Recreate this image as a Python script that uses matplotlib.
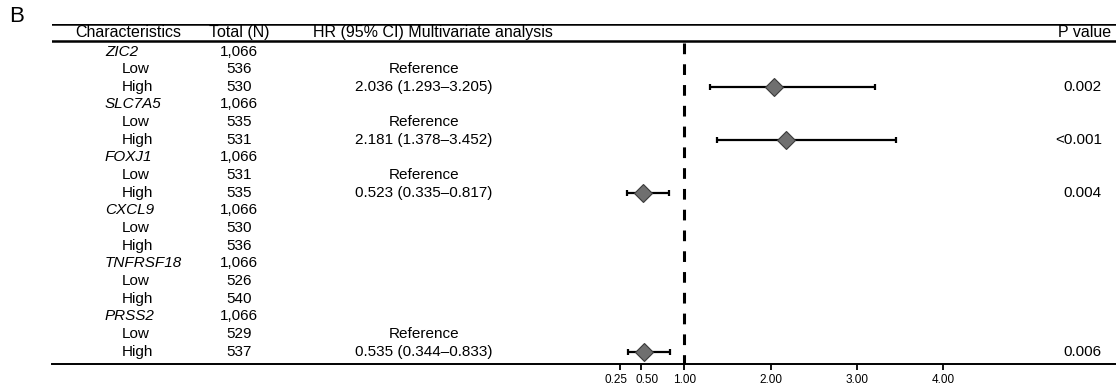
import matplotlib
matplotlib.use("Agg")
import matplotlib.pyplot as plt
import matplotlib.transforms as mtransforms

plt.rcParams['font.family'] = ['Liberation Sans', 'DejaVu Sans']

# data
genes = ["ZIC2", "SLC7A5", "FOXJ1", "CXCL9", "TNFRSF18", "PRSS2"]
total_n = ["1,066", "1,066", "1,066", "1,066", "1,066", "1,066"]
n_low = [536, 535, 531, 530, 526, 529]
n_high = [530, 531, 535, 536, 540, 537]
hr = [2.036, 2.181, 0.523, None, None, 0.535]
ci_low = [1.293, 1.378, 0.335, None, None, 0.344]
ci_high = [3.205, 3.452, 0.817, None, None, 0.833]
p_values = ["0.002", "<0.001", "0.004", "", "", "0.006"]
xticks = [0.25, 0.50, 1.00, 2.00, 3.00, 4.00]

W, H = 1116, 390
fig = plt.figure(figsize=(W / 100, H / 100), dpi=100)

# table frame: left edge 52px, lines at 23.5px and 364px
y_top, y_bot = 23.5, 364.0
ax = fig.add_axes([52 / W, 1 - y_bot / H, 1 - 52 / W, (y_bot - y_top) / H])

# HR scale: 0 at 598.3px, 86.2 px per unit
x0, ppu = 598.3, 86.2
ax.set_xlim((52 - x0) / ppu, (W - x0) / ppu)
# rows: first row at 51.5px, 17.66px apart
r0, rstep = 51.5, 17.66
ax.set_ylim((y_bot - r0) / rstep, (y_top - r0) / rstep)

def row_y(px):
    return (px - r0) / rstep

tr = mtransforms.blended_transform_factory(ax.transAxes, ax.transData)
fs = 11
fs_head = 11.5

# header
ax.axhline(row_y(y_top), color='black', lw=1.8)
ax.axhline(row_y(41), color='black', lw=1.8)
hy = row_y(32.5)
ax.text(0.0719, hy, "Characteristics", transform=tr, ha='center', va='center', fontsize=fs_head)
ax.text(0.1758, hy, "Total (N)", transform=tr, ha='center', va='center', fontsize=fs_head)
ax.text(0.3576, hy, "HR (95% CI) Multivariate analysis", transform=tr, ha='center', va='center', fontsize=fs_head)
ax.text(0.9953, hy, "P value", transform=tr, ha='right', va='center', fontsize=fs_head)

row = 0
for i, g in enumerate(genes):
    ax.text(0.0498, row, g, transform=tr, ha='left', va='center', fontsize=fs, style='italic')
    ax.text(0.1758, row, total_n[i], transform=tr, ha='center', va='center', fontsize=fs)
    ax.text(0.0655, row + 1, "Low", transform=tr, ha='left', va='center', fontsize=fs)
    ax.text(0.1758, row + 1, str(n_low[i]), transform=tr, ha='center', va='center', fontsize=fs)
    ax.text(0.0655, row + 2, "High", transform=tr, ha='left', va='center', fontsize=fs)
    ax.text(0.1758, row + 2, str(n_high[i]), transform=tr, ha='center', va='center', fontsize=fs)
    if hr[i] is not None:
        ax.text(0.3496, row + 1, "Reference", transform=tr, ha='center', va='center', fontsize=fs)
        ax.text(0.3496, row + 2, f"{hr[i]:.3f} ({ci_low[i]:.3f}\u2013{ci_high[i]:.3f})",
                transform=tr, ha='center', va='center', fontsize=fs)
        ax.errorbar(hr[i], row + 2, xerr=[[hr[i] - ci_low[i]], [ci_high[i] - hr[i]]],
                    fmt='none', ecolor='black', elinewidth=1.6, capsize=1.9, capthick=1.6, zorder=3)
        ax.plot(hr[i], row + 2, marker='D', markersize=9, markerfacecolor='#6f6f6f',
                markeredgecolor='#3a3a3a', markeredgewidth=0.8, linestyle='none', zorder=4)
        ax.text(0.9868, row + 2, p_values[i], transform=tr, ha='right', va='center', fontsize=fs)
    row += 3

# reference line at HR = 1
ax.plot([1, 1], [row_y(43.3), row_y(y_bot)], color='black', lw=2.2,
        linestyle=(0, (3.5, 3.3)), solid_capstyle='butt', zorder=2)

for s in ['top', 'left', 'right']:
    ax.spines[s].set_visible(False)
ax.spines['bottom'].set_linewidth(1.4)
ax.set_yticks([])
ax.set_xticks(xticks)
ax.set_xticklabels([f"{t:.2f}" for t in xticks], fontsize=8.5)
ax.tick_params(axis='x', length=4, width=1.3, pad=3)
# the two small labels are pushed apart in the reference
labels = ax.get_xticklabels()
labels[0].set_transform(labels[0].get_transform() + mtransforms.ScaledTranslation(-3.5 / 100, 0, fig.dpi_scale_trans))
labels[1].set_transform(labels[1].get_transform() + mtransforms.ScaledTranslation(6 / 100, 0, fig.dpi_scale_trans))

fig.text(9 / W, 1 - 16 / H, "B", fontsize=16, ha='left', va='center')

fig.savefig("out.png", dpi=100)
